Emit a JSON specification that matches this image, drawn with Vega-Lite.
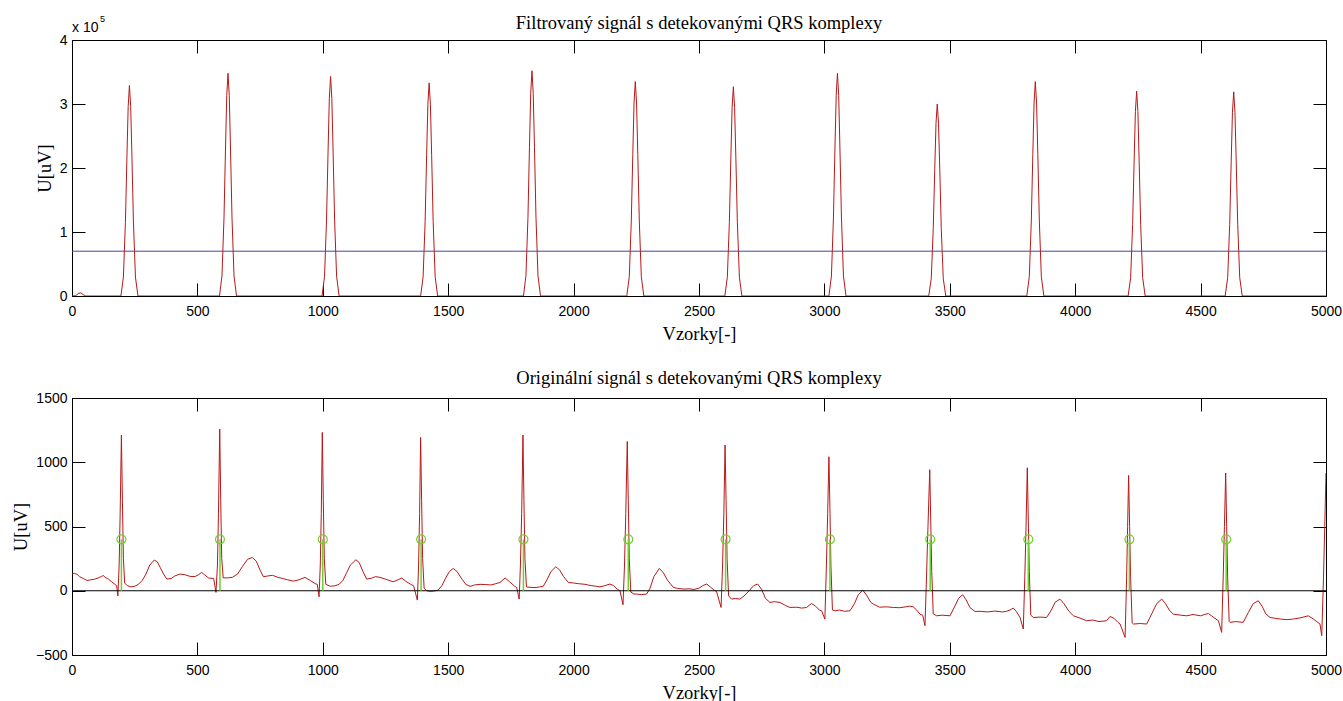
{
  "$schema": "https://vega.github.io/schema/vega-lite/v6.json",
  "background": "white",
  "padding": {"top": 13, "left": 10, "right": 10, "bottom": 0},
  "bounds": "flush",
  "spacing": 102,
  "datasets": {
    "filt": [
      {"x":0,"y":0},{"x":15,"y":500},{"x":25,"y":4000},{"x":35,"y":5000},{"x":45,"y":2000},{"x":55,"y":0},
      {"x":195,"y":0},{"x":205,"y":29600},{"x":213,"y":115200},{"x":219,"y":217100},{"x":224,"y":296100},{"x":229,"y":329000},{"x":234,"y":296100},{"x":239,"y":217100},{"x":245,"y":115200},{"x":253,"y":29600},{"x":263,"y":0},
      {"x":588,"y":0},{"x":598,"y":31300},{"x":606,"y":121800},{"x":612,"y":229700},{"x":617,"y":313200},{"x":622,"y":348000},{"x":627,"y":313200},{"x":632,"y":229700},{"x":638,"y":121800},{"x":646,"y":31300},{"x":656,"y":0},
      {"x":997,"y":0},{"x":1007,"y":30900},{"x":1015,"y":120100},{"x":1021,"y":226400},{"x":1026,"y":308700},{"x":1031,"y":343000},{"x":1036,"y":308700},{"x":1041,"y":226400},{"x":1047,"y":120100},{"x":1055,"y":30900},{"x":1065,"y":0},
      {"x":1390,"y":0},{"x":1400,"y":30000},{"x":1408,"y":116600},{"x":1414,"y":219800},{"x":1419,"y":299700},{"x":1424,"y":333000},{"x":1429,"y":299700},{"x":1434,"y":219800},{"x":1440,"y":116600},{"x":1448,"y":30000},{"x":1458,"y":0},
      {"x":1800,"y":0},{"x":1810,"y":31700},{"x":1818,"y":123200},{"x":1824,"y":232300},{"x":1829,"y":316800},{"x":1834,"y":352000},{"x":1839,"y":316800},{"x":1844,"y":232300},{"x":1850,"y":123200},{"x":1858,"y":31700},{"x":1868,"y":0},
      {"x":2212,"y":0},{"x":2222,"y":30200},{"x":2230,"y":117300},{"x":2236,"y":221100},{"x":2241,"y":301500},{"x":2246,"y":335000},{"x":2251,"y":301500},{"x":2256,"y":221100},{"x":2262,"y":117300},{"x":2270,"y":30200},{"x":2280,"y":0},
      {"x":2603,"y":0},{"x":2613,"y":29400},{"x":2621,"y":114500},{"x":2627,"y":215800},{"x":2632,"y":294300},{"x":2637,"y":327000},{"x":2642,"y":294300},{"x":2647,"y":215800},{"x":2653,"y":114500},{"x":2661,"y":29400},{"x":2671,"y":0},
      {"x":3018,"y":0},{"x":3028,"y":31300},{"x":3036,"y":121800},{"x":3042,"y":229700},{"x":3047,"y":313200},{"x":3052,"y":348000},{"x":3057,"y":313200},{"x":3062,"y":229700},{"x":3068,"y":121800},{"x":3076,"y":31300},{"x":3086,"y":0},
      {"x":3416,"y":0},{"x":3426,"y":27000},{"x":3434,"y":105000},{"x":3440,"y":198000},{"x":3445,"y":270000},{"x":3450,"y":300000},{"x":3455,"y":270000},{"x":3460,"y":198000},{"x":3466,"y":105000},{"x":3474,"y":27000},{"x":3484,"y":0},
      {"x":3807,"y":0},{"x":3817,"y":30200},{"x":3825,"y":117300},{"x":3831,"y":221100},{"x":3836,"y":301500},{"x":3841,"y":335000},{"x":3846,"y":301500},{"x":3851,"y":221100},{"x":3857,"y":117300},{"x":3865,"y":30200},{"x":3875,"y":0},
      {"x":4211,"y":0},{"x":4221,"y":28800},{"x":4229,"y":112000},{"x":4235,"y":211200},{"x":4240,"y":288000},{"x":4245,"y":320000},{"x":4250,"y":288000},{"x":4255,"y":211200},{"x":4261,"y":112000},{"x":4269,"y":28800},{"x":4279,"y":0},
      {"x":4598,"y":0},{"x":4608,"y":28700},{"x":4616,"y":111700},{"x":4622,"y":210500},{"x":4627,"y":287100},{"x":4632,"y":319000},{"x":4637,"y":287100},{"x":4642,"y":210500},{"x":4648,"y":111700},{"x":4656,"y":28700},{"x":4666,"y":0},
      {"x":5000,"y":0}
    ],
    "thr": [{"x":0,"y":70000},{"x":5000,"y":70000}],
    "ecg": [
      {"x":0,"y":130},{"x":10,"y":135},{"x":20,"y":128},{"x":30,"y":110},{"x":45,"y":95},{"x":60,"y":80},{"x":75,"y":85},{"x":90,"y":90},{"x":105,"y":100},{"x":118,"y":112},{"x":125,"y":118},{"x":132,"y":105},{"x":145,"y":90},{"x":158,"y":70},{"x":170,"y":52},{"x":178,"y":40},{"x":183,"y":-40},{"x":188,"y":200},{"x":192,"y":600},{"x":197,"y":1212},{"x":201,"y":700},{"x":205,"y":250},{"x":210,"y":60},
      {"x":220,"y":40},{"x":235,"y":30},{"x":250,"y":35},{"x":265,"y":50},{"x":280,"y":80},{"x":295,"y":130},{"x":310,"y":200},{"x":328,"y":239},{"x":340,"y":225},{"x":352,"y":180},{"x":365,"y":130},{"x":378,"y":91},{"x":395,"y":95},{"x":410,"y":115},{"x":430,"y":130},{"x":450,"y":125},{"x":470,"y":112},{"x":490,"y":110},{"x":505,"y":125},{"x":517,"y":143},{"x":528,"y":125},{"x":545,"y":99},{"x":565,"y":95},{"x":574,"y":-13},{"x":580,"y":200},{"x":584,"y":600},{"x":589,"y":1258},{"x":593,"y":700},{"x":597,"y":250},{"x":603,"y":100},
      {"x":620,"y":100},{"x":640,"y":105},{"x":660,"y":130},{"x":680,"y":190},{"x":700,"y":245},{"x":719,"y":259},{"x":735,"y":230},{"x":750,"y":160},{"x":763,"y":109},{"x":780,"y":115},{"x":800,"y":120},{"x":820,"y":105},{"x":840,"y":95},{"x":860,"y":85},{"x":882,"y":75},{"x":905,"y":85},{"x":929,"y":104},{"x":950,"y":80},{"x":970,"y":55},{"x":978,"y":50},{"x":985,"y":-47},{"x":990,"y":200},{"x":994,"y":600},{"x":998,"y":1232},{"x":1002,"y":700},{"x":1006,"y":250},{"x":1012,"y":50},
      {"x":1030,"y":35},{"x":1049,"y":39},{"x":1065,"y":50},{"x":1080,"y":80},{"x":1095,"y":140},{"x":1110,"y":200},{"x":1132,"y":241},{"x":1145,"y":220},{"x":1160,"y":150},{"x":1175,"y":91},{"x":1195,"y":98},{"x":1210,"y":110},{"x":1228,"y":104},{"x":1250,"y":90},{"x":1280,"y":70},{"x":1300,"y":85},{"x":1315,"y":99},{"x":1330,"y":75},{"x":1350,"y":50},{"x":1362,"y":39},{"x":1377,"y":-73},{"x":1382,"y":200},{"x":1386,"y":600},{"x":1390,"y":1193},{"x":1394,"y":700},{"x":1398,"y":250},{"x":1404,"y":20},
      {"x":1415,"y":0},{"x":1428,"y":-5},{"x":1445,"y":-2},{"x":1460,"y":5},{"x":1475,"y":40},{"x":1490,"y":100},{"x":1505,"y":150},{"x":1520,"y":174},{"x":1535,"y":150},{"x":1555,"y":90},{"x":1570,"y":50},{"x":1587,"y":34},{"x":1605,"y":45},{"x":1627,"y":50},{"x":1650,"y":48},{"x":1670,"y":45},{"x":1690,"y":55},{"x":1707,"y":65},{"x":1727,"y":99},{"x":1745,"y":70},{"x":1765,"y":35},{"x":1773,"y":26},{"x":1783,"y":-65},{"x":1788,"y":200},{"x":1793,"y":600},{"x":1798,"y":1212},{"x":1802,"y":700},{"x":1806,"y":250},{"x":1812,"y":30},
      {"x":1830,"y":26},{"x":1850,"y":25},{"x":1865,"y":30},{"x":1879,"y":35},{"x":1895,"y":90},{"x":1910,"y":150},{"x":1929,"y":187},{"x":1945,"y":160},{"x":1960,"y":110},{"x":1979,"y":65},{"x":2000,"y":60},{"x":2020,"y":55},{"x":2045,"y":50},{"x":2070,"y":40},{"x":2090,"y":35},{"x":2105,"y":30},{"x":2125,"y":40},{"x":2145,"y":52},{"x":2160,"y":40},{"x":2175,"y":10},{"x":2185,"y":0},{"x":2197,"y":-109},{"x":2203,"y":200},{"x":2208,"y":600},{"x":2214,"y":1162},{"x":2218,"y":700},{"x":2222,"y":250},{"x":2228,"y":-10},
      {"x":2240,"y":-25},{"x":2251,"y":-26},{"x":2270,"y":-30},{"x":2291,"y":-26},{"x":2305,"y":20},{"x":2320,"y":110},{"x":2342,"y":174},{"x":2358,"y":140},{"x":2375,"y":80},{"x":2398,"y":26},{"x":2415,"y":18},{"x":2440,"y":13},{"x":2460,"y":15},{"x":2480,"y":10},{"x":2500,"y":20},{"x":2515,"y":40},{"x":2531,"y":52},{"x":2545,"y":30},{"x":2560,"y":5},{"x":2570,"y":-6},{"x":2588,"y":-130},{"x":2594,"y":200},{"x":2599,"y":600},{"x":2604,"y":1134},{"x":2608,"y":700},{"x":2612,"y":250},{"x":2618,"y":-40},
      {"x":2630,"y":-65},{"x":2645,"y":-60},{"x":2663,"y":-65},{"x":2680,"y":-40},{"x":2700,"y":0},{"x":2718,"y":40},{"x":2734,"y":52},{"x":2750,"y":10},{"x":2765,"y":-60},{"x":2783,"y":-91},{"x":2800,"y":-85},{"x":2823,"y":-91},{"x":2845,"y":-115},{"x":2863,"y":-130},{"x":2890,"y":-128},{"x":2910,"y":-135},{"x":2929,"y":-130},{"x":2949,"y":-99},{"x":2965,"y":-120},{"x":2980,"y":-150},{"x":2989,"y":-156},{"x":3002,"y":-221},{"x":3008,"y":200},{"x":3013,"y":600},{"x":3018,"y":1043},{"x":3022,"y":650},{"x":3026,"y":200},{"x":3032,"y":-150},
      {"x":3042,"y":-156},{"x":3060,"y":-150},{"x":3080,"y":-160},{"x":3102,"y":-156},{"x":3120,"y":-100},{"x":3135,"y":-30},{"x":3153,"y":5},{"x":3170,"y":-40},{"x":3185,"y":-90},{"x":3195,"y":-104},{"x":3220,"y":-128},{"x":3248,"y":-125},{"x":3275,"y":-130},{"x":3300,"y":-132},{"x":3325,"y":-125},{"x":3340,"y":-120},{"x":3354,"y":-125},{"x":3368,"y":-150},{"x":3381,"y":-182},{"x":3392,"y":-190},{"x":3401,"y":-272},{"x":3407,"y":100},{"x":3413,"y":500},{"x":3420,"y":942},{"x":3424,"y":550},{"x":3428,"y":150},{"x":3434,"y":-180},
      {"x":3448,"y":-195},{"x":3470,"y":-190},{"x":3501,"y":-195},{"x":3520,"y":-120},{"x":3535,"y":-60},{"x":3551,"y":-31},{"x":3565,"y":-70},{"x":3580,"y":-130},{"x":3600,"y":-161},{"x":3620,"y":-160},{"x":3650,"y":-165},{"x":3680,"y":-158},{"x":3710,"y":-165},{"x":3727,"y":-160},{"x":3745,"y":-145},{"x":3753,"y":-135},{"x":3765,"y":-160},{"x":3780,"y":-208},{"x":3793,"y":-298},{"x":3799,"y":100},{"x":3804,"y":500},{"x":3809,"y":957},{"x":3813,"y":550},{"x":3817,"y":150},{"x":3823,"y":-190},
      {"x":3833,"y":-208},{"x":3860,"y":-205},{"x":3886,"y":-208},{"x":3905,"y":-150},{"x":3920,"y":-90},{"x":3939,"y":-65},{"x":3955,"y":-100},{"x":3975,"y":-160},{"x":3993,"y":-195},{"x":4015,"y":-210},{"x":4045,"y":-233},{"x":4070,"y":-228},{"x":4095,"y":-240},{"x":4125,"y":-233},{"x":4139,"y":-200},{"x":4155,"y":-215},{"x":4170,"y":-245},{"x":4179,"y":-259},{"x":4199,"y":-363},{"x":4205,"y":100},{"x":4209,"y":500},{"x":4213,"y":897},{"x":4217,"y":500},{"x":4221,"y":100},{"x":4227,"y":-250},
      {"x":4232,"y":-259},{"x":4260,"y":-255},{"x":4285,"y":-259},{"x":4305,"y":-180},{"x":4325,"y":-100},{"x":4345,"y":-65},{"x":4360,"y":-100},{"x":4375,"y":-150},{"x":4391,"y":-182},{"x":4420,"y":-190},{"x":4445,"y":-195},{"x":4470,"y":-185},{"x":4500,"y":-195},{"x":4515,"y":-185},{"x":4531,"y":-177},{"x":4550,"y":-205},{"x":4571,"y":-233},{"x":4584,"y":-324},{"x":4590,"y":100},{"x":4595,"y":500},{"x":4600,"y":916},{"x":4604,"y":500},{"x":4608,"y":100},{"x":4614,"y":-240},
      {"x":4617,"y":-246},{"x":4640,"y":-240},{"x":4670,"y":-246},{"x":4690,"y":-170},{"x":4710,"y":-100},{"x":4730,"y":-78},{"x":4745,"y":-120},{"x":4760,"y":-180},{"x":4777,"y":-208},{"x":4800,"y":-215},{"x":4817,"y":-220},{"x":4845,"y":-225},{"x":4870,"y":-220},{"x":4900,"y":-210},{"x":4929,"y":-195},{"x":4950,"y":-220},{"x":4976,"y":-259},{"x":4983,"y":-350},{"x":4990,"y":100},{"x":4995,"y":500},{"x":5000,"y":916}
    ],
    "qrs": [
      {"x":197,"y":400},{"x":590,"y":400},{"x":1000,"y":400},{"x":1392,"y":400},{"x":1800,"y":400},{"x":2218,"y":400},{"x":2606,"y":400},{"x":3022,"y":400},{"x":3422,"y":400},{"x":3813,"y":400},{"x":4216,"y":400},{"x":4602,"y":400}
    ]
  },
  "vconcat": [
    {
      "width": 1254,
      "height": 256,
      "title": {"text": "Filtrovaný signál s detekovanými QRS komplexy", "font": "Liberation Serif", "fontSize": 18.5, "fontWeight": "normal", "color": "black", "baseline": "alphabetic", "offset": -32},
      "layer": [
        {
          "data": {"name": "filt"},
          "mark": {"type": "line", "color": "#b81818", "strokeWidth": 1, "clip": true},
          "encoding": {
            "x": {"field": "x", "type": "quantitative", "scale": {"domain": [0, 5000], "nice": false, "zero": false},
                  "axis": {"orient": "bottom", "values": [0,500,1000,1500,2000,2500,3000,3500,4000,4500,5000], "format": "d", "title": "Vzorky[-]"}},
            "y": {"field": "y", "type": "quantitative", "scale": {"domain": [0, 400000], "nice": false},
                  "axis": {"orient": "left", "values": [0,100000,200000,300000,400000], "labelExpr": "format(datum.value/100000, 'd')", "title": "U[uV]"}}
          }
        },
        {
          "data": {"name": "thr"},
          "mark": {"type": "line", "color": "#4444a0", "strokeWidth": 1},
          "encoding": {
            "x": {"field": "x", "type": "quantitative", "axis": {"orient": "top", "labels": false, "title": null, "values": [0,500,1000,1500,2000,2500,3000,3500,4000,4500,5000]}},
            "y": {"field": "y", "type": "quantitative", "axis": {"orient": "right", "labels": false, "title": null, "values": [0,100000,200000,300000,400000]}}
          }
        },
        {
          "data": {"values": [{}]},
          "mark": {"type": "text", "text": "x 10", "align": "left", "baseline": "alphabetic", "dx": 0, "dy": -8, "font": "Liberation Sans", "fontSize": 14, "color": "black"},
          "encoding": {"x": {"datum": 0, "type": "quantitative", "axis": null}, "y": {"datum": 400000, "type": "quantitative", "axis": null}}
        },
        {
          "data": {"values": [{}]},
          "mark": {"type": "text", "text": "5", "align": "left", "baseline": "alphabetic", "dx": 28, "dy": -18, "font": "Liberation Sans", "fontSize": 9, "color": "black"},
          "encoding": {"x": {"datum": 0, "type": "quantitative", "axis": null}, "y": {"datum": 400000, "type": "quantitative", "axis": null}}
        }
      ],
      "resolve": {"axis": {"x": "independent", "y": "independent"}}
    },
    {
      "width": 1254,
      "height": 257,
      "title": {"text": "Originální signál s detekovanými QRS komplexy", "font": "Liberation Serif", "fontSize": 18.5, "fontWeight": "normal", "color": "black", "baseline": "alphabetic", "offset": -11},
      "layer": [
        {
          "data": {"name": "ecg"},
          "mark": {"type": "line", "color": "#b81818", "strokeWidth": 1, "clip": true},
          "encoding": {
            "x": {"field": "x", "type": "quantitative", "scale": {"domain": [0, 5000], "nice": false, "zero": false},
                  "axis": {"orient": "bottom", "values": [0,500,1000,1500,2000,2500,3000,3500,4000,4500,5000], "format": "d", "title": "Vzorky[-]"}},
            "y": {"field": "y", "type": "quantitative", "scale": {"domain": [-500, 1500], "nice": false, "zero": false},
                  "axis": {"orient": "left", "values": [-500,0,500,1000,1500], "format": "d", "title": "U[uV]"}}
          }
        },
        {
          "data": {"values": [{}]},
          "mark": {"type": "rule", "color": "black", "strokeWidth": 1},
          "encoding": {"y": {"datum": 0, "type": "quantitative", "axis": null}}
        },
        {
          "data": {"name": "qrs"},
          "mark": {"type": "rule", "color": "#6fcf2f", "strokeWidth": 1.5},
          "encoding": {
            "x": {"field": "x", "type": "quantitative", "axis": null},
            "y": {"field": "y", "type": "quantitative", "axis": null},
            "y2": {"datum": 0}
          }
        },
        {
          "data": {"name": "qrs"},
          "mark": {"type": "point", "shape": "circle", "filled": false, "color": "#6fcf2f", "size": 80, "strokeWidth": 1.2, "opacity": 1},
          "encoding": {
            "x": {"field": "x", "type": "quantitative", "axis": {"orient": "top", "labels": false, "title": null, "values": [0,500,1000,1500,2000,2500,3000,3500,4000,4500,5000]}},
            "y": {"field": "y", "type": "quantitative", "axis": {"orient": "right", "labels": false, "title": null, "values": [-500,0,500,1000,1500]}}
          }
        }
      ],
      "resolve": {"axis": {"x": "independent", "y": "independent"}}
    }
  ],
  "config": {
    "view": {"stroke": "black", "strokeWidth": 1},
    "axis": {
      "domain": false,
      "grid": false,
      "ticks": true,
      "tickColor": "black",
      "tickSize": 13,
      "offset": -13,
      "tickWidth": 1,
      "minExtent": 0,
      "labelFont": "Liberation Sans",
      "labelFontSize": 14,
      "labelColor": "black",
      "labelFlush": false,
      "labelOverlap": false,
      "titleFont": "Liberation Serif",
      "titleFontSize": 18.5,
      "titleFontWeight": "normal",
      "titleColor": "black"
    },
    "axisX": {"labelPadding": 8, "titlePadding": 6},
    "axisY": {"labelPadding": 5, "titlePadding": 5}
  }
}
